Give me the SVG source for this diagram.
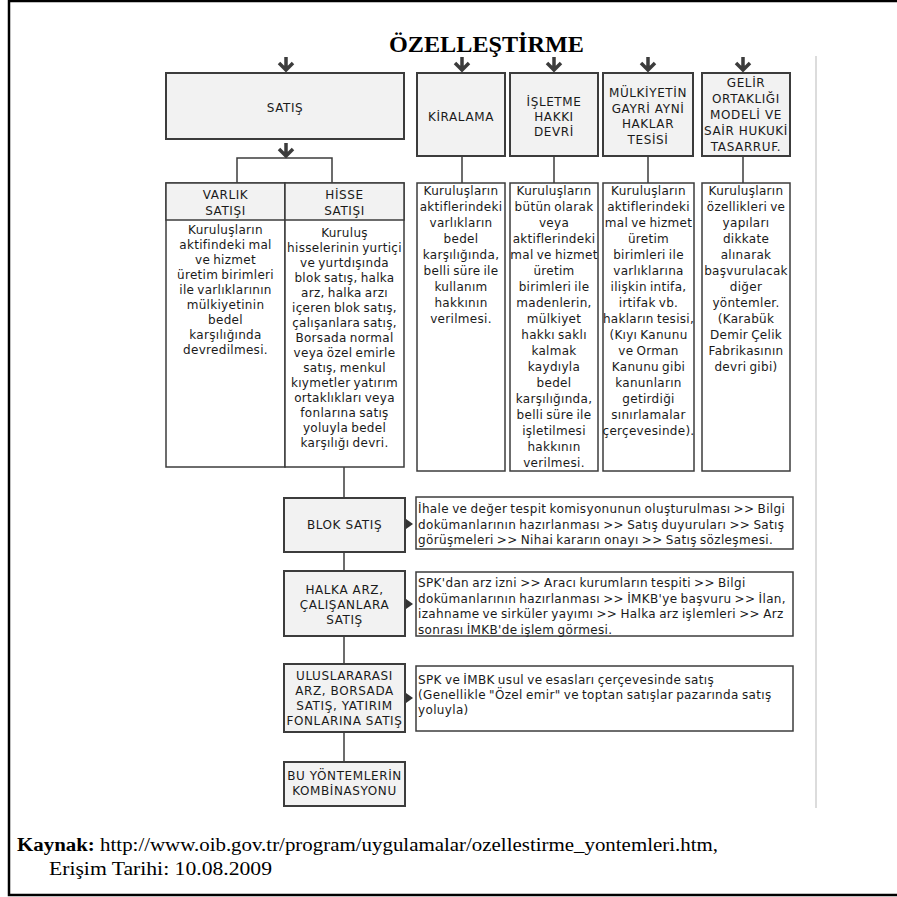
<svg xmlns="http://www.w3.org/2000/svg" width="897" height="897" viewBox="0 0 897 897">
<style>
.frame{fill:none;stroke:#000;stroke-width:2.5}
.box{fill:#f2f2f2;stroke:#3c3c3c;stroke-width:2}
.body{fill:#fff;stroke:#3c3c3c;stroke-width:1.5}
.lbl{font-family:"DejaVu Sans",sans-serif;font-size:12px;letter-spacing:0.6px;text-anchor:middle;fill:#1a1a1a}
.txt{font-family:"DejaVu Sans",sans-serif;font-size:12px;letter-spacing:0.3px;word-spacing:-1px;text-anchor:middle;fill:#1a1a1a}
.desc{font-family:"DejaVu Sans",sans-serif;font-size:12px;letter-spacing:0.35px;word-spacing:-1px;fill:#1a1a1a}
.conn{stroke:#3c3c3c;stroke-width:1.5;fill:none}
.arr{stroke:#3c3c3c;stroke-width:3.5;fill:none}
.tri{fill:#333}
.title{font-family:"Liberation Serif",serif;font-weight:bold;font-size:24px;fill:#000}
.src{font-family:"Liberation Serif",serif;font-size:18px;fill:#000}
</style>
<defs>
<g id="down"><path class="arr" d="M0,57V70M-7,63L0,70L7,63"/></g>
</defs>
<path class="frame" d="M897,1H9V895H897"/>
<line x1="816" y1="56" x2="816" y2="808" stroke="#dcdcdc" stroke-width="2"/>
<text class="title" x="389" y="52" textLength="195" lengthAdjust="spacingAndGlyphs">ÖZELLEŞTİRME</text>

<g id="connectors">
<use href="#down" x="286" y="0"/>
<use href="#down" x="462" y="0"/>
<use href="#down" x="554" y="0"/>
<use href="#down" x="648" y="0"/>
<use href="#down" x="743" y="0"/>
<use href="#down" x="286" y="86"/>
<path class="conn" d="M237,183V158H332V183"/>
<path class="conn" d="M462,156V183M554,156V183M648,156V183M743,156V183"/>
<path class="conn" d="M344,467V498M344,552V571M344,636V664M344,732V762"/>
<path class="tri" d="M406,519L413,524L406,529Z"/>
<path class="tri" d="M406,599L413,604L406,609Z"/>
<path class="tri" d="M406,693L413,698L406,703Z"/>
</g>

<g id="satis">
<rect class="box" x="166" y="73" width="238" height="66"/>
<text class="lbl" x="285" y="112">SATIŞ</text>
</g>
<g id="kiralama">
<rect class="box" x="417" y="73" width="88" height="83"/>
<text class="lbl" x="461" y="121">KİRALAMA</text>
</g>
<g id="isletme">
<rect class="box" x="510" y="73" width="88" height="83"/>
<text class="lbl" x="554" y="106">İŞLETME<tspan x="554" dy="15">HAKKI</tspan><tspan x="554" dy="15">DEVRİ</tspan></text>
</g>
<g id="mulkiyet">
<rect class="box" x="603" y="73" width="90" height="83"/>
<text class="lbl" x="648" y="97">MÜLKİYETİN<tspan x="648" dy="15.5">GAYRİ AYNİ</tspan><tspan x="648" dy="15.5">HAKLAR</tspan><tspan x="648" dy="15.5">TESİSİ</tspan></text>
</g>
<g id="gelir">
<rect class="box" x="702" y="73" width="88" height="83"/>
<text class="lbl" x="746" y="87">GELİR<tspan x="746" dy="16">ORTAKLIĞI</tspan><tspan x="746" dy="16">MODELİ VE</tspan><tspan x="746" dy="16">SAİR HUKUKİ</tspan><tspan x="746" dy="16">TASARRUF.</tspan></text>
</g>

<g id="varlik">
<rect class="body" x="166" y="183" width="119" height="284"/>
<rect class="box" x="166" y="183" width="119" height="37" style="stroke-width:1.5"/>
<text class="lbl" x="225.5" y="199">VARLIK<tspan x="225.5" dy="16">SATIŞI</tspan></text>
<text class="txt" x="225.5" y="234">Kuruluşların<tspan x="225.5" dy="15">aktifindeki mal</tspan><tspan x="225.5" dy="15">ve hizmet</tspan><tspan x="225.5" dy="15">üretim birimleri</tspan><tspan x="225.5" dy="15">ile varlıklarının</tspan><tspan x="225.5" dy="15">mülkiyetinin</tspan><tspan x="225.5" dy="15">bedel</tspan><tspan x="225.5" dy="15">karşılığında</tspan><tspan x="225.5" dy="15">devredilmesi.</tspan></text>
</g>
<g id="hisse">
<rect class="body" x="285" y="183" width="119" height="284"/>
<rect class="box" x="285" y="183" width="119" height="37" style="stroke-width:1.5"/>
<text class="lbl" x="344.5" y="199">HİSSE<tspan x="344.5" dy="16">SATIŞI</tspan></text>
<text class="txt" x="344.5" y="237">Kuruluş<tspan x="344.5" dy="15">hisselerinin yurtiçi</tspan><tspan x="344.5" dy="15">ve yurtdışında</tspan><tspan x="344.5" dy="15">blok satış, halka</tspan><tspan x="344.5" dy="15">arz, halka arzı</tspan><tspan x="344.5" dy="15">içeren blok satış,</tspan><tspan x="344.5" dy="15">çalışanlara satış,</tspan><tspan x="344.5" dy="15">Borsada normal</tspan><tspan x="344.5" dy="15">veya özel emirle</tspan><tspan x="344.5" dy="15">satış, menkul</tspan><tspan x="344.5" dy="15">kıymetler yatırım</tspan><tspan x="344.5" dy="15">ortaklıkları veya</tspan><tspan x="344.5" dy="15">fonlarına satış</tspan><tspan x="344.5" dy="15">yoluyla bedel</tspan><tspan x="344.5" dy="15">karşılığı devri.</tspan></text>
</g>

<g id="kiralama-body">
<rect class="body" x="417" y="183" width="88" height="288"/>
<text class="txt" x="461" y="195">Kuruluşların<tspan x="461" dy="16">aktiflerindeki</tspan><tspan x="461" dy="16">varlıkların</tspan><tspan x="461" dy="16">bedel</tspan><tspan x="461" dy="16">karşılığında,</tspan><tspan x="461" dy="16">belli süre ile</tspan><tspan x="461" dy="16">kullanım</tspan><tspan x="461" dy="16">hakkının</tspan><tspan x="461" dy="16">verilmesi.</tspan></text>
</g>
<g id="isletme-body">
<rect class="body" x="510" y="183" width="88" height="288"/>
<text class="txt" x="554" y="195">Kuruluşların<tspan x="554" dy="16">bütün olarak</tspan><tspan x="554" dy="16">veya</tspan><tspan x="554" dy="16">aktiflerindeki</tspan><tspan x="554" dy="16">mal ve hizmet</tspan><tspan x="554" dy="16">üretim</tspan><tspan x="554" dy="16">birimleri ile</tspan><tspan x="554" dy="16">madenlerin,</tspan><tspan x="554" dy="16">mülkiyet</tspan><tspan x="554" dy="16">hakkı saklı</tspan><tspan x="554" dy="16">kalmak</tspan><tspan x="554" dy="16">kaydıyla</tspan><tspan x="554" dy="16">bedel</tspan><tspan x="554" dy="16">karşılığında,</tspan><tspan x="554" dy="16">belli  süre ile</tspan><tspan x="554" dy="16">işletilmesi</tspan><tspan x="554" dy="16">hakkının</tspan><tspan x="554" dy="16">verilmesi.</tspan></text>
</g>
<g id="mulkiyet-body">
<rect class="body" x="603" y="183" width="91" height="288"/>
<text class="txt" x="648.5" y="195">Kuruluşların<tspan x="648.5" dy="16">aktiflerindeki</tspan><tspan x="648.5" dy="16">mal ve hizmet</tspan><tspan x="648.5" dy="16">üretim</tspan><tspan x="648.5" dy="16">birimleri ile</tspan><tspan x="648.5" dy="16">varlıklarına</tspan><tspan x="648.5" dy="16">ilişkin intifa,</tspan><tspan x="648.5" dy="16">irtifak vb.</tspan><tspan x="648.5" dy="16">hakların tesisi,</tspan><tspan x="648.5" dy="16">(Kıyı Kanunu</tspan><tspan x="648.5" dy="16">ve Orman</tspan><tspan x="648.5" dy="16">Kanunu gibi</tspan><tspan x="648.5" dy="16">kanunların</tspan><tspan x="648.5" dy="16">getirdiği</tspan><tspan x="648.5" dy="16">sınırlamalar</tspan><tspan x="648.5" dy="16">çerçevesinde).</tspan></text>
</g>
<g id="gelir-body">
<rect class="body" x="702" y="183" width="88" height="288"/>
<text class="txt" x="746" y="195">Kuruluşların<tspan x="746" dy="16">özellikleri ve</tspan><tspan x="746" dy="16">yapıları</tspan><tspan x="746" dy="16">dikkate</tspan><tspan x="746" dy="16">alınarak</tspan><tspan x="746" dy="16">başvurulacak</tspan><tspan x="746" dy="16">diğer</tspan><tspan x="746" dy="16">yöntemler.</tspan><tspan x="746" dy="16">(Karabük</tspan><tspan x="746" dy="16">Demir Çelik</tspan><tspan x="746" dy="16">Fabrikasının</tspan><tspan x="746" dy="16">devri gibi)</tspan></text>
</g>

<g id="blok">
<rect class="box" x="284" y="498" width="121" height="54"/>
<text class="lbl" x="344.5" y="529">BLOK SATIŞ</text>
</g>
<g id="blok-desc">
<rect class="body" x="416" y="497" width="377" height="52"/>
<text class="desc" x="418" y="513">İhale ve değer tespit komisyonunun oluşturulması &gt;&gt; Bilgi<tspan x="418" dy="15.5">dokümanlarının hazırlanması &gt;&gt; Satış duyuruları &gt;&gt; Satış</tspan><tspan x="418" dy="15.5">görüşmeleri &gt;&gt; Nihai kararın onayı &gt;&gt; Satış sözleşmesi.</tspan></text>
</g>
<g id="halka">
<rect class="box" x="284" y="571" width="121" height="65"/>
<text class="lbl" x="344.5" y="594">HALKA ARZ,<tspan x="344.5" dy="15">ÇALIŞANLARA</tspan><tspan x="344.5" dy="15">SATIŞ</tspan></text>
</g>
<g id="halka-desc">
<rect class="body" x="416" y="572" width="377" height="64"/>
<text class="desc" x="418" y="587">SPK'dan arz izni  &gt;&gt; Aracı kurumların tespiti  &gt;&gt; Bilgi<tspan x="418" dy="15.5">dokümanlarının hazırlanması  &gt;&gt; İMKB'ye başvuru &gt;&gt; İlan,</tspan><tspan x="418" dy="15.5">izahname ve sirküler yayımı &gt;&gt; Halka arz işlemleri &gt;&gt; Arz</tspan><tspan x="418" dy="15.5">sonrası İMKB'de işlem görmesi.</tspan></text>
</g>
<g id="uluslararasi">
<rect class="box" x="284" y="664" width="121" height="68"/>
<text class="lbl" x="344.5" y="680">ULUSLARARASI<tspan x="344.5" dy="15">ARZ, BORSADA</tspan><tspan x="344.5" dy="15">SATIŞ, YATIRIM</tspan><tspan x="344.5" dy="15">FONLARINA SATIŞ</tspan></text>
</g>
<g id="uluslararasi-desc">
<rect class="body" x="416" y="666" width="377" height="65"/>
<text class="desc" x="418" y="684">SPK ve İMBK usul ve esasları çerçevesinde satış<tspan x="418" dy="15">(Genellikle "Özel emir"  ve  toptan satışlar pazarında satış</tspan><tspan x="418" dy="15">yoluyla)</tspan></text>
</g>
<g id="kombinasyon">
<rect class="box" x="284" y="762" width="121" height="44"/>
<text class="lbl" x="344.5" y="780">BU YÖNTEMLERİN<tspan x="344.5" dy="15">KOMBİNASYONU</tspan></text>
</g>

<text class="src" x="17" y="851" textLength="701" lengthAdjust="spacingAndGlyphs"><tspan font-weight="bold">Kaynak:</tspan> http://www.oib.gov.tr/program/uygulamalar/ozellestirme_yontemleri.htm,</text>
<text class="src" x="49" y="875" textLength="223" lengthAdjust="spacingAndGlyphs">Erişim Tarihi: 10.08.2009</text>
</svg>
